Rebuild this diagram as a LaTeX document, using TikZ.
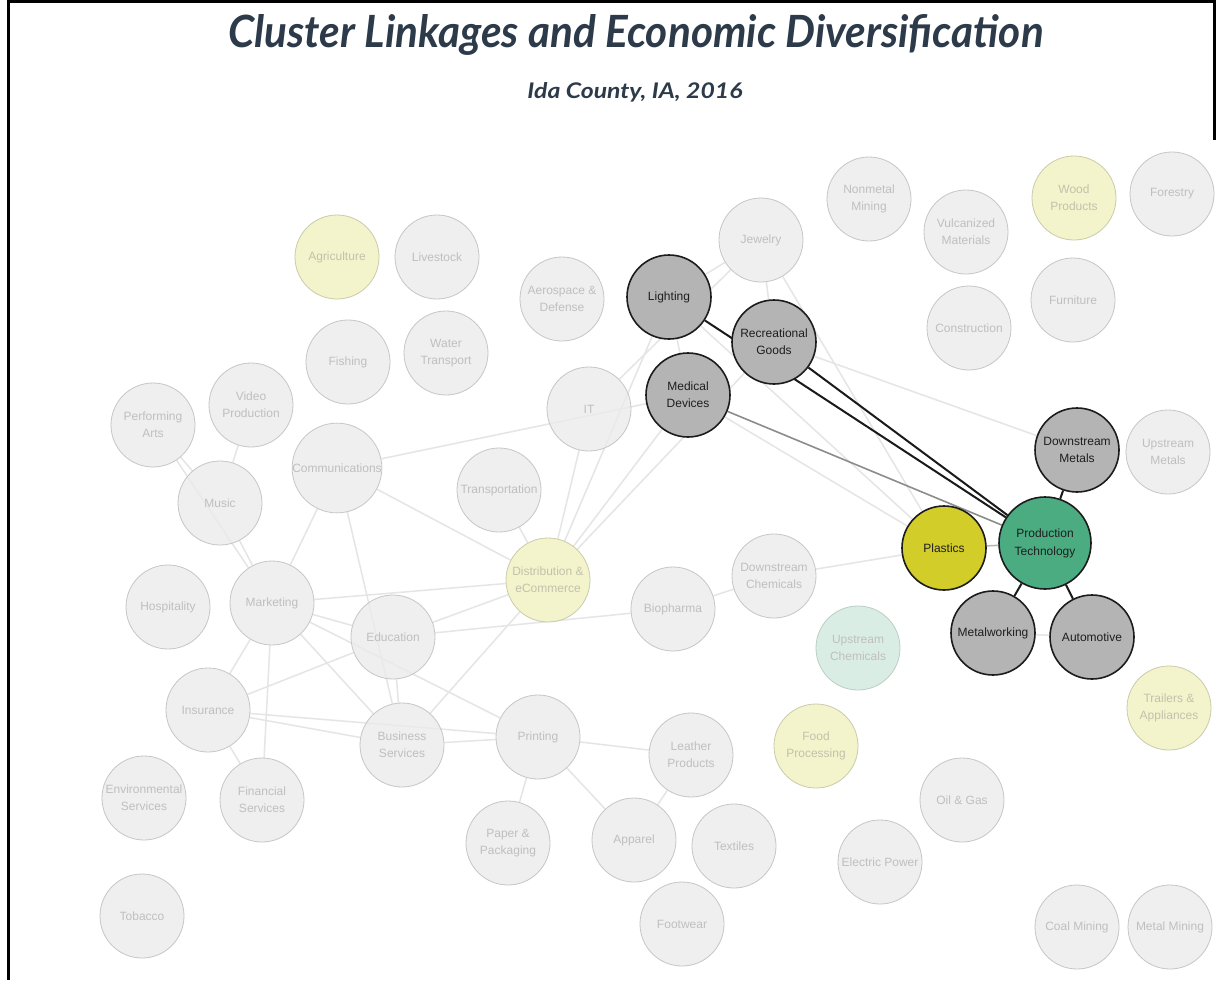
\documentclass[tikz,border=0pt]{standalone}
\usepackage{fontspec}
\setmainfont{Liberation Sans}
\newfontfamily\latof{Lato}
\usetikzlibrary{backgrounds}
\definecolor{nfill}{HTML}{EBEBEB}
\definecolor{nborder}{HTML}{C6C6C6}
\definecolor{ntext}{HTML}{BFBFBF}
\definecolor{yfill}{HTML}{F2F3C4}
\definecolor{yborder}{HTML}{CACBA8}
\definecolor{ytext}{HTML}{C2C2AC}
\definecolor{tfill}{HTML}{D6ECE2}
\definecolor{tborder}{HTML}{B9CEC4}
\definecolor{dfill}{HTML}{B4B4B4}
\definecolor{dborder}{HTML}{1C1C1C}
\definecolor{dtext}{HTML}{1E1E1E}
\definecolor{pfill}{HTML}{D3CD2A}
\definecolor{gfill}{HTML}{4BAC82}
\definecolor{efaint}{HTML}{E5E5E5}
\definecolor{emid}{HTML}{8C8C8C}
\definecolor{elight}{HTML}{B4B4B4}
\definecolor{estrong}{HTML}{1A1A1A}
\definecolor{titlec}{HTML}{2C3A49}
\tikzset{
  cl/.style={circle, minimum size=84pt, inner sep=0pt, align=center,
    font=\fontsize{12}{17}\selectfont, line width=0.8pt},
  fnt/.style={cl, fill=nfill, fill opacity=0.8, text opacity=1, draw=nborder, text=ntext},
  yel/.style={cl, fill=yfill, fill opacity=0.85, text opacity=1, draw=yborder, text=ytext},
  tea/.style={cl, fill=tfill, fill opacity=0.9, text opacity=1, draw=tborder, text=ntext},
  drk/.style={cl, fill=dfill, draw=dborder, line width=1.6pt, text=dtext},
  plas/.style={drk, fill=pfill},
  prod/.style={drk, fill=gfill, minimum size=92pt, font=\fontsize{12}{18}\selectfont},
  fedge/.style={draw=efaint, line width=1.5pt},
  medge/.style={draw=emid, line width=1.6pt},
  ledge/.style={draw=elight, line width=1.5pt},
  sedge/.style={draw=estrong, line width=2pt},
  frame/.style={draw=black, line width=3pt}
}
\begin{document}
\begin{tikzpicture}[x=1pt,y=-1pt]
\useasboundingbox (0,0) rectangle (1223,980);
% title
\node[text=titlec, inner sep=0pt] (title) at (636,35)
  {\resizebox{815pt}{33pt}{\latof\bfseries\itshape Cluster Linkages and Economic Diversification}};
\node[text=titlec, inner sep=0pt] (sub) at (635,92)
  {\resizebox{215pt}{16pt}{\latof\bfseries\itshape Ida County, IA, 2016}};
% frame
\coordinate (f1) at (8.5,980);
\coordinate (f2) at (8.5,1.5);
\coordinate (f3) at (1214,1.5);
\coordinate (f4) at (1214,140);
\draw[frame] (f1) -- (f2) -- (f3) -- (f4);
% nodes
\node[yel] (agri) at (337,257) {Agriculture};
\node[fnt] (live) at (437,257) {Livestock};
\node[fnt] (fish) at (348,362) {Fishing};
\node[fnt] (water) at (446,353) {Water\\Transport};
\node[fnt] (video) at (251,405) {Video\\Production};
\node[fnt] (perf) at (153,425) {Performing\\Arts};
\node[fnt] (comm) at (337,468) {Communications};
\node[fnt] (music) at (220,503) {Music};
\node[fnt] (hosp) at (168,607) {Hospitality};
\node[fnt] (mkt) at (272,603) {Marketing};
\node[fnt] (edu) at (393,637) {Education};
\node[fnt] (ins) at (208,710) {Insurance};
\node[fnt] (bus) at (402,745) {Business\\Services};
\node[fnt] (env) at (144,798) {Environmental\\Services};
\node[fnt] (fin) at (262,800) {Financial\\Services};
\node[fnt] (tob) at (142,916) {Tobacco};
\node[fnt] (aero) at (562,299) {Aerospace \&\\Defense};
\node[fnt] (it) at (589,409) {IT};
\node[fnt] (trans) at (499,490) {Transportation};
\node[yel] (dist) at (548,580) {Distribution \&\\eCommerce};
\node[fnt] (bio) at (673,609) {Biopharma};
\node[fnt] (dchem) at (774,576) {Downstream\\Chemicals};
\node[fnt] (print) at (538,737) {Printing};
\node[fnt] (leather) at (691,755) {Leather\\Products};
\node[fnt] (paper) at (508,843) {Paper \&\\Packaging};
\node[fnt] (app) at (634,840) {Apparel};
\node[fnt] (tex) at (734,846) {Textiles};
\node[fnt] (foot) at (682,924) {Footwear};
\node[yel] (food) at (816,746) {Food\\Processing};
\node[tea] (uchem) at (858,648) {Upstream\\Chemicals};
\node[fnt] (jew) at (761,240) {Jewelry};
\node[fnt] (nonmet) at (869,199) {Nonmetal\\Mining};
\node[fnt] (vulc) at (966,232) {Vulcanized\\Materials};
\node[yel] (wood) at (1074,198) {Wood\\Products};
\node[fnt] (forest) at (1172,194) {Forestry};
\node[fnt] (furn) at (1073,300) {Furniture};
\node[fnt] (constr) at (969,328) {Construction};
\node[fnt] (umet) at (1168,452) {Upstream\\Metals};
\node[yel] (trail) at (1169,708) {Trailers \&\\Appliances};
\node[fnt] (oil) at (962,800) {Oil \& Gas};
\node[fnt] (elec) at (880,862) {Electric Power};
\node[fnt] (coal) at (1077,927) {Coal Mining};
\node[fnt] (metm) at (1170,927) {Metal Mining};
\node[drk] (light) at (669,297) {Lighting};
\node[drk] (med) at (688,395) {Medical\\Devices};
\node[drk] (rec) at (774,342) {Recreational\\Goods};
\node[drk] (dmet) at (1077,450) {Downstream\\Metals};
\node[plas] (plast) at (944,548) {Plastics};
\node[prod] (pt) at (1045,543) {Production\\Technology};
\node[drk] (metw) at (993,633) {Metalworking};
\node[drk] (auto) at (1092,637) {Automotive};
% edges
\begin{pgfonlayer}{background}
\fill[white] (0,0) rectangle (1223,980);
\foreach \a/\b in {perf/mkt, perf/music, video/music, music/mkt, comm/mkt, comm/bus,
  comm/dist, comm/med, mkt/edu, mkt/dist, mkt/ins, mkt/fin, mkt/bus, mkt/print,
  ins/edu, ins/bus, ins/print, ins/fin, edu/bus, edu/dist, edu/bio, bus/dist,
  bus/print, print/paper, print/app, print/leather, leather/app, it/dist,
  light/dist, med/dist, rec/dist, jew/it, light/jew, jew/rec, light/med,
  trans/dist, bio/dchem, dchem/plast, rec/dmet, light/plast, jew/plast,
  med/plast, metw/auto}
  \draw[fedge] (\a) -- (\b);
\draw[medge] (med) -- (pt);
\draw[ledge] (plast) -- (pt);
\draw[sedge] (light) -- (pt);
\draw[sedge] (rec) -- (pt);
\draw[sedge] (pt) -- (dmet);
\draw[sedge] (pt) -- (metw);
\draw[sedge] (pt) -- (auto);
\end{pgfonlayer}
\end{tikzpicture}
\end{document}
